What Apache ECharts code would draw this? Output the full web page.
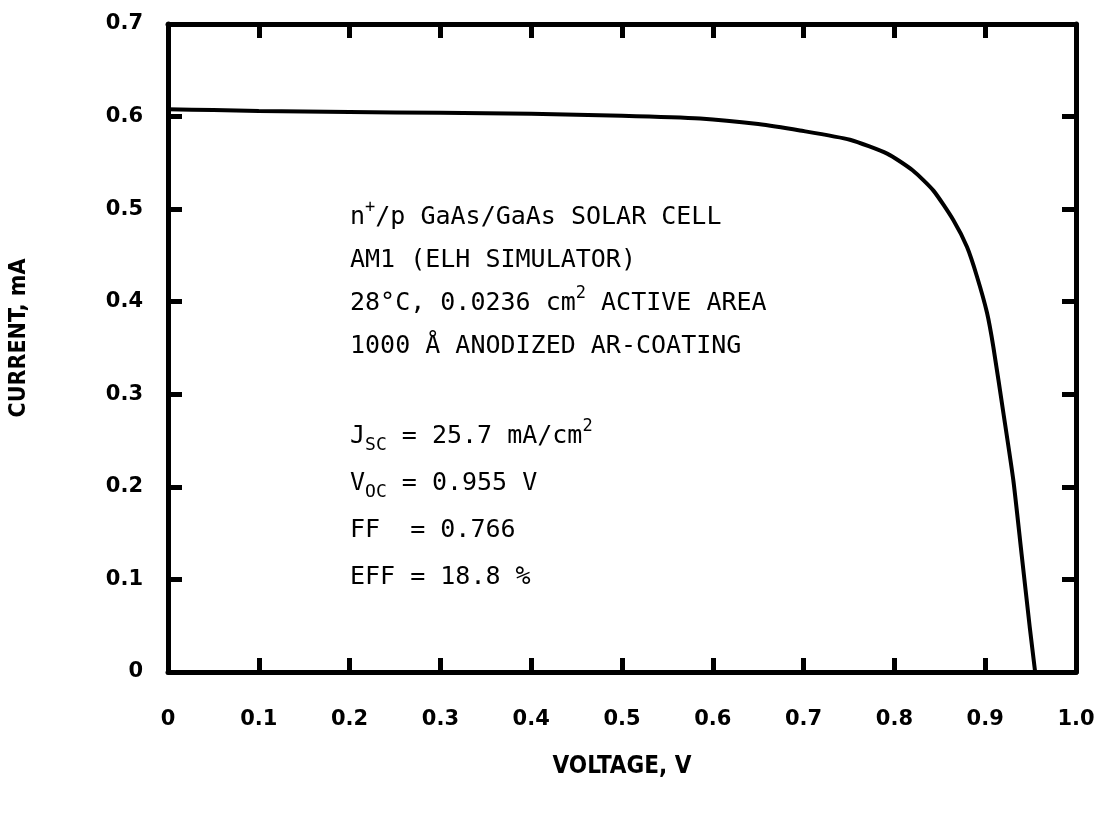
<!DOCTYPE html>
<html>
<head>
<meta charset="utf-8">
<script src="https://cdn.jsdelivr.net/npm/echarts@6/dist/echarts.min.js"></script>
<style>
html,body{margin:0;padding:0;background:#fff;}
#chart{width:1103px;height:831px;}
</style>
</head>
<body>
<div id="chart"></div>
<script>
// I-V curve
const voltage = [0, 0.05, 0.1, 0.2, 0.3, 0.4, 0.5, 0.586, 0.65, 0.696, 0.751, 0.792, 0.820, 0.843, 0.865, 0.880, 0.891, 0.902, 0.909, 0.920, 0.931, 0.940, 0.949, 0.955];
const current = [0.608, 0.607, 0.606, 0.605, 0.604, 0.603, 0.601, 0.598, 0.592, 0.585, 0.575, 0.560, 0.542, 0.520, 0.488, 0.459, 0.427, 0.388, 0.351, 0.280, 0.207, 0.128, 0.049, 0];
const xTickLabels = ['0', '0.1', '0.2', '0.3', '0.4', '0.5', '0.6', '0.7', '0.8', '0.9', '1.0'];
const yTickLabels = ['0', '0.1', '0.2', '0.3', '0.4', '0.5', '0.6', '0.7'];
const infoLines1 = ['n{sup|+}/p GaAs/GaAs SOLAR CELL', 'AM1 (ELH SIMULATOR)', '28°C, 0.0236 cm{sup|2} ACTIVE AREA', '1000 Å ANODIZED AR-COATING'];
const infoLines2 = ['J{sub|SC} = 25.7 mA/cm{sup|2}', 'V{sub|OC} = 0.955 V', 'FF  = 0.766', 'EFF = 18.8 %'];

const chart = echarts.init(document.getElementById('chart'));
const boldFont = 'DejaVu Sans, sans-serif';
const labelFont = {color: '#000', fontFamily: boldFont, fontWeight: 'bold', fontSize: 21};
const nameFont = {color: '#000', fontFamily: 'DejaVu Sans Condensed, DejaVu Sans, sans-serif', fontWeight: 'bold'};
const textFont = 'DejaVu Sans Mono, monospace';
const rich = {
  sup: {fontSize: 17, fontFamily: textFont, verticalAlign: 'top', lineHeight: 36, padding: [0, 0, 14, 0]},
  sub: {fontSize: 18, fontFamily: textFont, verticalAlign: 'bottom', lineHeight: 36, padding: [18, 0, 0, 0]}
};
function infoText(lines, top, gap) {
  return lines.map((t, i) => ({
    type: 'text', left: 350, top: top + i * gap,
    style: {text: t, fontSize: 25, fontFamily: textFont, fill: '#000', rich: rich, lineHeight: 36}
  }));
}
const baseAxis = {
  type: 'value', min: 0, interval: 0.1,
  axisLine: {show: true, onZero: false, lineStyle: {color: '#000', width: 5}},
  axisTick: {show: true, inside: true, length: 14, lineStyle: {color: '#000', width: 5}},
  splitLine: {show: false}
};
chart.setOption({
  animation: false,
  backgroundColor: '#fff',
  grid: {left: 168, right: 27, top: 24, bottom: 159},
  xAxis: [
    Object.assign({}, baseAxis, {
      max: 1, position: 'bottom',
      axisLabel: Object.assign({}, labelFont, {margin: 37, formatter: (v) => xTickLabels[Math.round(v * 10)]}),
      name: 'VOLTAGE, V', nameLocation: 'middle', nameGap: 83,
      nameTextStyle: Object.assign({}, nameFont, {fontSize: 24})
    }),
    Object.assign({}, baseAxis, {max: 1, position: 'top', axisLabel: {show: false}})
  ],
  yAxis: [
    Object.assign({}, baseAxis, {
      max: 0.7, position: 'left',
      axisLabel: Object.assign({}, labelFont, {margin: 25, formatter: (v) => yTickLabels[Math.round(v * 10)]}),
      name: 'CURRENT, mA', nameLocation: 'middle', nameGap: 137, nameRotate: 90,
      nameTextStyle: Object.assign({}, nameFont, {fontSize: 23, padding: [0, 0, 0, 20]})
    }),
    Object.assign({}, baseAxis, {max: 0.7, position: 'right', axisLabel: {show: false}})
  ],
  series: [{
    type: 'line',
    data: voltage.map((v, i) => [v, current[i]]),
    showSymbol: false,
    smooth: 0.2,
    lineStyle: {color: '#000', width: 4},
    z: 5
  }],
  graphic: [].concat(infoText(infoLines1, 199, 43), infoText(infoLines2, 418, 47))
});
</script>
</body>
</html>
